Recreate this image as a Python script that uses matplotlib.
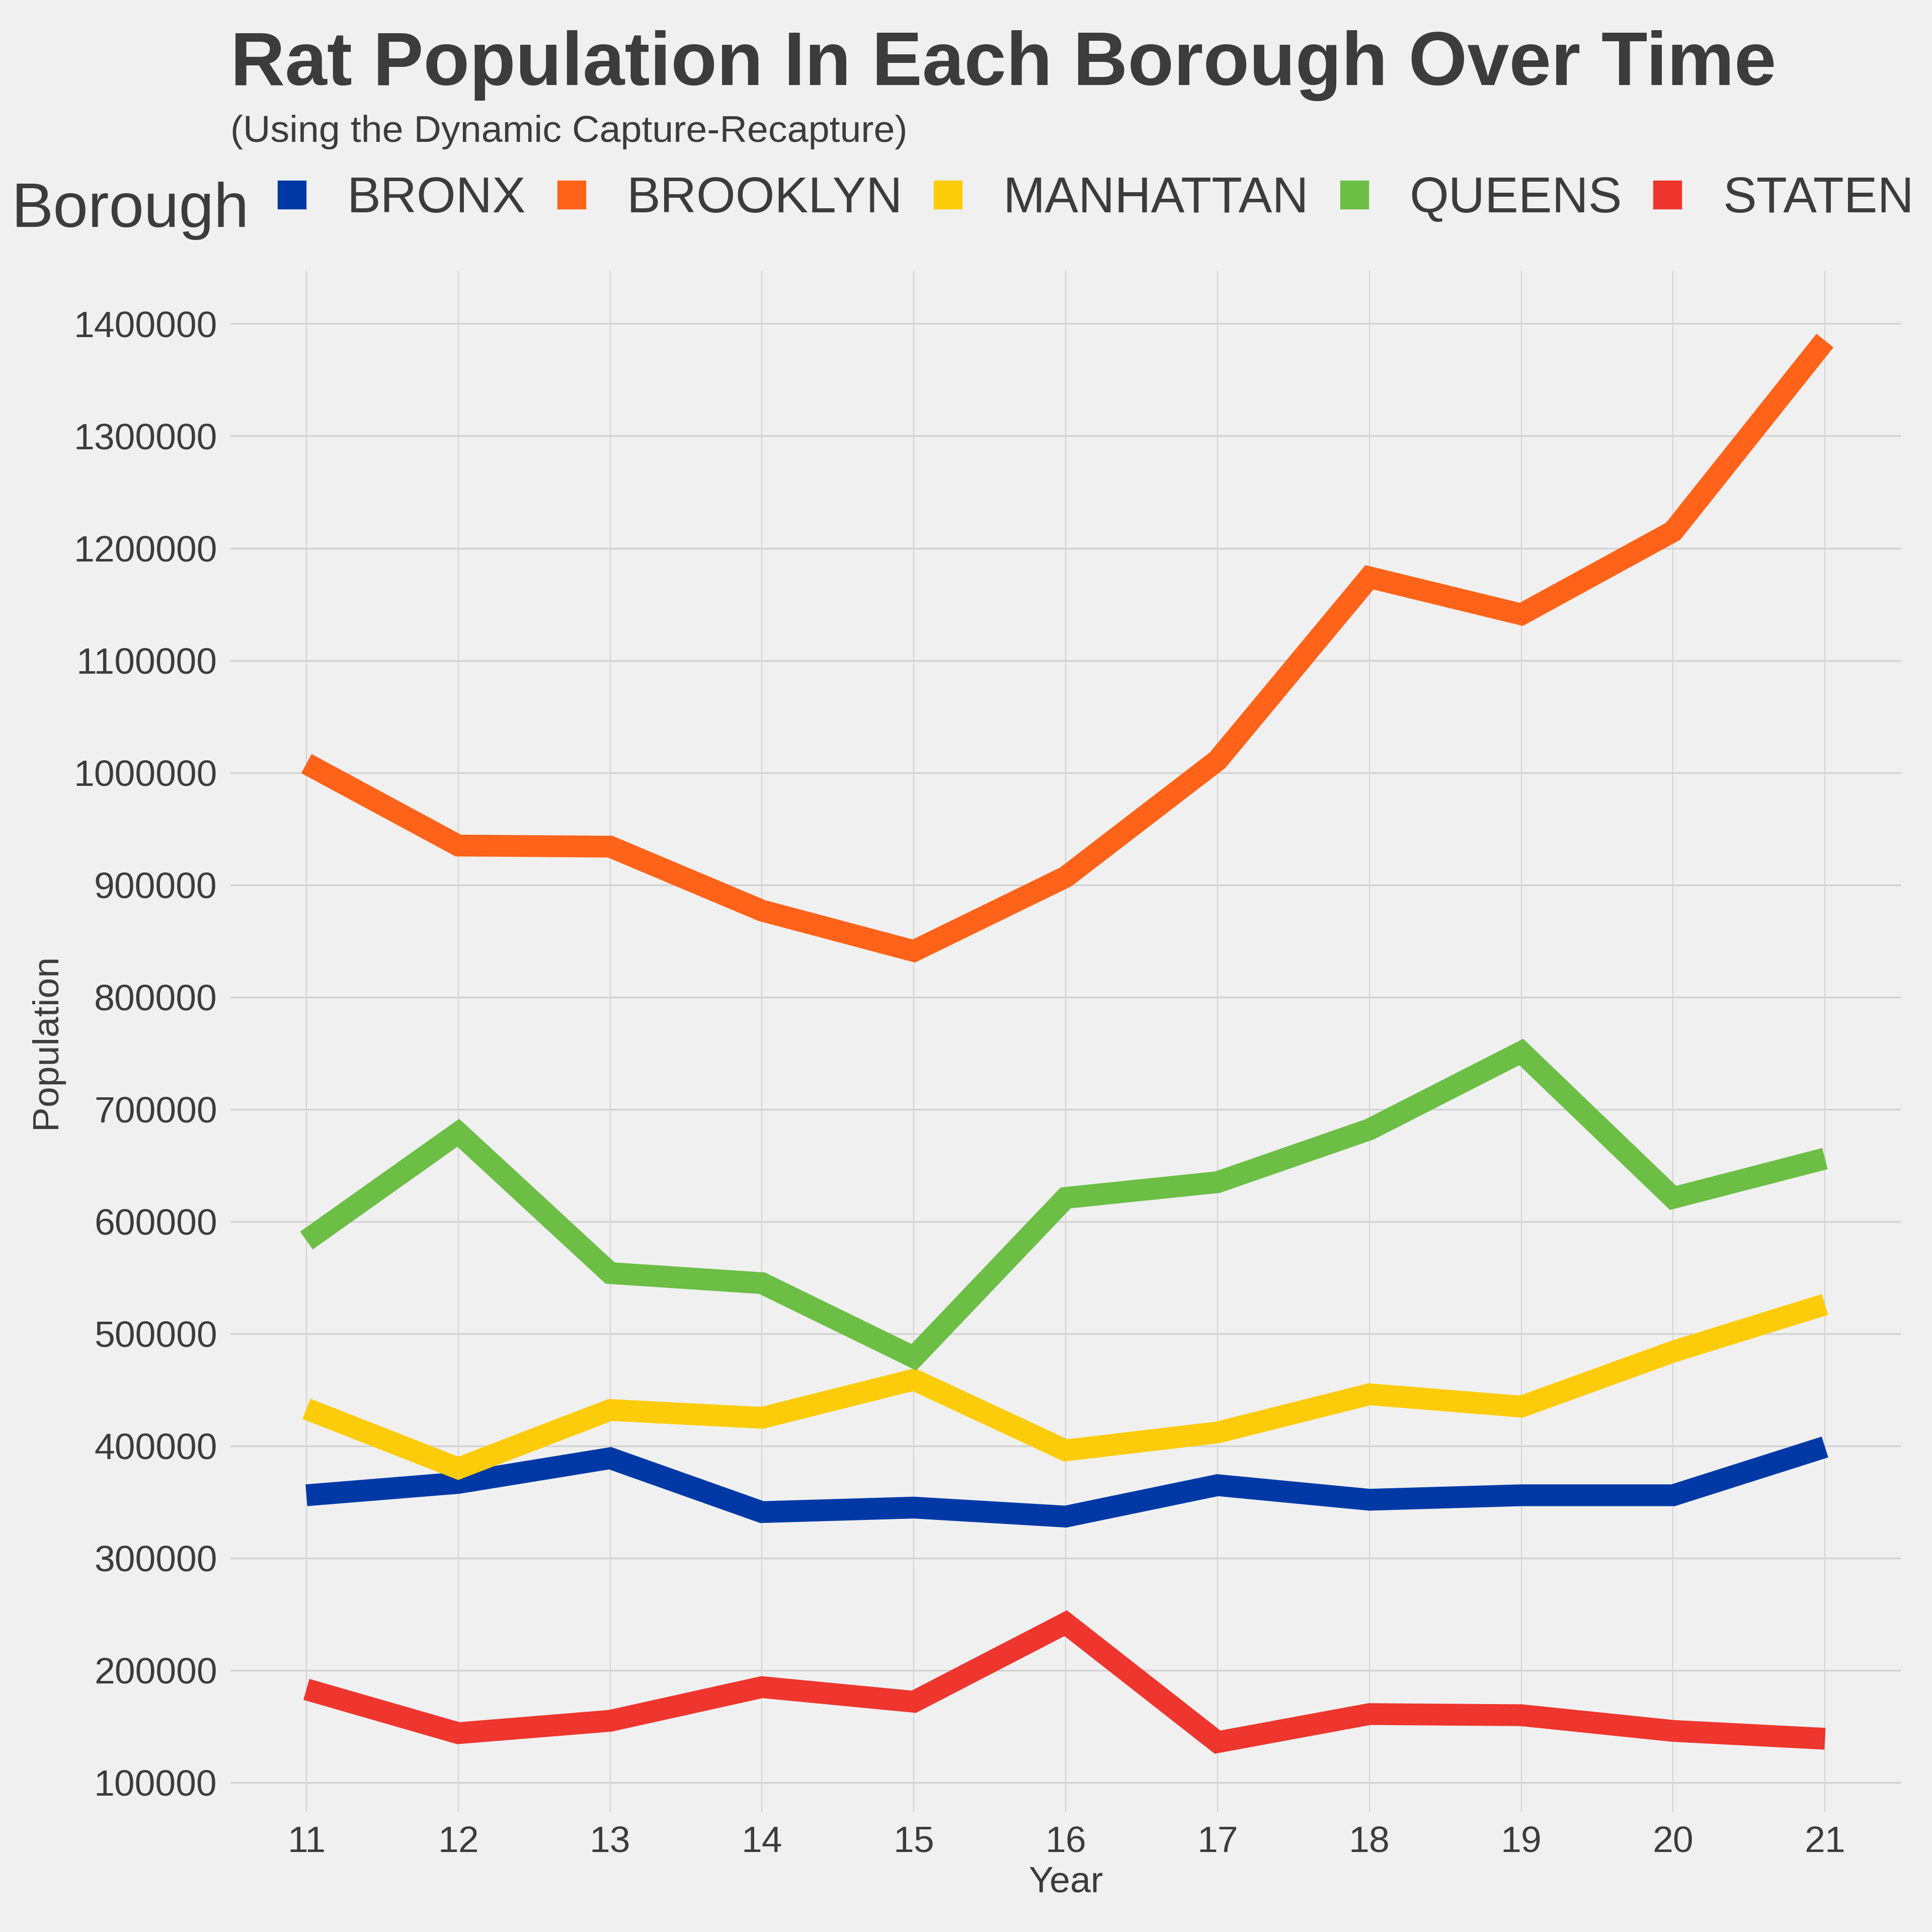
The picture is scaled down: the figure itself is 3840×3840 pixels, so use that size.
import matplotlib
matplotlib.use("Agg")
import matplotlib.pyplot as plt
from matplotlib.lines import Line2D
from matplotlib.ticker import FuncFormatter

plt.rcParams["font.family"] = ["Liberation Sans", "DejaVu Sans"]

# data
years = [11, 12, 13, 14, 15, 16, 17, 18, 19, 20, 21]
boroughs = ["BRONX", "BROOKLYN", "MANHATTAN", "QUEENS", "STATEN"]
bronx = [356000, 367000, 389000, 341000, 345000, 337000, 365000, 352000, 356000, 356000, 399000]
brooklyn = [1008000, 935000, 934000, 877000, 841000, 907000, 1011000, 1174000, 1141000, 1215000, 1385000]
manhattan = [433000, 380000, 432000, 425000, 459000, 396000, 412000, 446000, 435000, 484000, 526000]
queens = [583000, 679000, 554000, 545000, 479000, 621000, 635000, 682000, 751000, 621000, 656000]
staten = [183000, 144000, 155000, 185000, 172000, 242000, 136000, 161000, 160000, 146000, 139000]
colors = ["#0039A6", "#FF6319", "#FCCC0A", "#6CBE45", "#EE352E"]

bg = "#F0F0F0"
txt = "#3C3C3C"

fig = plt.figure(figsize=(16, 16), dpi=240, facecolor=bg)
ax = fig.add_axes([0.1193, 0.062, 0.8646, 0.798])
ax.set_facecolor(bg)

for name, vals, c in zip(boroughs, [bronx, brooklyn, manhattan, queens, staten], colors):
    ax.plot(years, vals, color=c, lw=13, solid_joinstyle="miter",
            solid_capstyle="butt", label=name, zorder=3)

ax.set_xticks(years)
ax.set_yticks(range(100000, 1400001, 100000))
ax.yaxis.set_major_formatter(FuncFormatter(lambda v, p: f"{int(v)}"))
ax.margins(x=0.05, y=0.05)
ax.tick_params(length=0, labelsize=22, colors=txt, pad=8)
ax.grid(axis="y", color="#D2D2D2", lw=1.0)
ax.grid(axis="x", color="#D2D2D2", lw=0.6)
ax.set_axisbelow(True)
for s in ax.spines.values():
    s.set_visible(False)

ax.set_xlabel("Year", fontsize=22, color=txt, labelpad=4)
ax.set_ylabel("Population", fontsize=22, color=txt, labelpad=6)

# title / subtitle
fig.text(0.1193, 0.956, "Rat Population In Each Borough Over Time", fontsize=45,
         fontweight="bold", color=txt, va="baseline", ha="left")
fig.text(0.1193, 0.9266, "(Using the Dynamic Capture-Recapture)", fontsize=22.6,
         color=txt, va="baseline", ha="left")

# legend
fig.text(0.006, 0.8826, "Borough", fontsize=37.5, color=txt, va="baseline", ha="left")
handles = [Line2D([], [], marker="s", ls="", color=c, markersize=16) for c in colors]
fig.legend(handles, boroughs, loc="center left", bbox_to_anchor=(0.138, 0.897),
           ncol=5, frameon=False, fontsize=30, labelcolor=txt,
           handlelength=1.0, handletextpad=0.6, columnspacing=0.4,
           borderpad=0, borderaxespad=0)

fig.savefig("out.png", dpi=240, facecolor=bg)
